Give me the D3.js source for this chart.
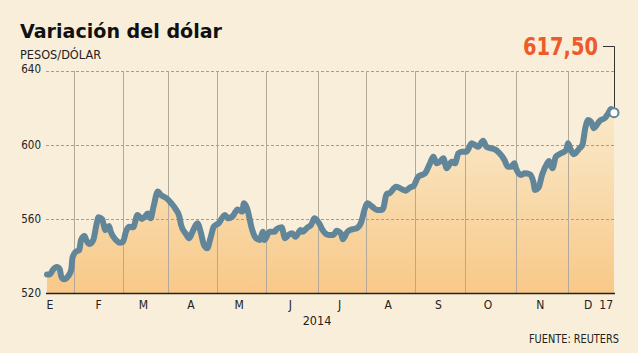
<!DOCTYPE html>
<html>
<head>
<meta charset="utf-8">
<script src="https://cdn.jsdelivr.net/npm/d3@7"></script>
<style>
  body { margin: 0; background: #f9eed9; }
  svg { display: block; }
</style>
</head>
<body>
<svg id="chart"></svg>
<script>
// Datos
const fechas = [
  "2014-01-13","2014-01-15","2014-01-17","2014-01-20","2014-01-22","2014-01-23","2014-01-25","2014-01-28","2014-01-30","2014-01-31",
  "2014-02-02","2014-02-04","2014-02-05","2014-02-07","2014-02-08","2014-02-10","2014-02-12","2014-02-14","2014-02-15","2014-02-17",
  "2014-02-19","2014-02-21","2014-02-22","2014-02-25","2014-02-27",
  "2014-03-01","2014-03-03","2014-03-05","2014-03-08","2014-03-11","2014-03-14","2014-03-16","2014-03-18","2014-03-20","2014-03-22",
  "2014-03-25","2014-03-27","2014-03-31",
  "2014-04-03","2014-04-06","2014-04-08","2014-04-09","2014-04-12","2014-04-14","2014-04-16","2014-04-19","2014-04-21","2014-04-23",
  "2014-04-25","2014-04-27","2014-04-29",
  "2014-05-02","2014-05-06","2014-05-08","2014-05-11","2014-05-14","2014-05-17","2014-05-18","2014-05-20","2014-05-23","2014-05-25",
  "2014-05-28","2014-05-30","2014-05-31",
  "2014-06-03","2014-06-06","2014-06-07","2014-06-10","2014-06-12","2014-06-14","2014-06-16","2014-06-18","2014-06-21","2014-06-22",
  "2014-06-25","2014-06-27","2014-06-29",
  "2014-07-02","2014-07-04","2014-07-08","2014-07-11","2014-07-13","2014-07-16","2014-07-17","2014-07-20","2014-07-23","2014-07-26",
  "2014-07-29","2014-07-31",
  "2014-08-02","2014-08-05","2014-08-08","2014-08-11","2014-08-12","2014-08-14","2014-08-16","2014-08-20","2014-08-24","2014-08-26",
  "2014-08-29","2014-08-31",
  "2014-09-03","2014-09-05","2014-09-07","2014-09-10","2014-09-12","2014-09-14","2014-09-16","2014-09-18","2014-09-20","2014-09-23",
  "2014-09-25","2014-09-27","2014-09-29",
  "2014-10-02","2014-10-05","2014-10-07","2014-10-09","2014-10-12","2014-10-14","2014-10-17","2014-10-19","2014-10-22","2014-10-25",
  "2014-10-27","2014-10-29","2014-10-31",
  "2014-11-01","2014-11-04","2014-11-06","2014-11-09","2014-11-11","2014-11-12","2014-11-14","2014-11-16","2014-11-19","2014-11-20",
  "2014-11-22","2014-11-24","2014-11-27","2014-11-30",
  "2014-12-01","2014-12-02","2014-12-03","2014-12-05","2014-12-06","2014-12-07","2014-12-08","2014-12-09","2014-12-10","2014-12-11",
  "2014-12-12","2014-12-14","2014-12-15","2014-12-16","2014-12-17"
];
const valores = [
  530, 530, 532.4, 534, 532.8, 529, 527.4, 529.2, 532.4, 539.3,
  542.3, 543.2, 548.6, 550.8, 548.6, 546.5, 548.6, 557.7, 561, 560,
  554, 556.2, 553.1, 548.6, 547.2,
  547.7, 553.1, 555.8, 555.5, 562.2, 560, 561.2, 563, 560.4, 566.6,
  574.8, 573, 571.2,
  568.5, 564.9, 561.2, 556.8, 551.9, 549.6, 553.1, 557.7, 553.1, 546,
  544.2, 549.6, 555.8,
  557.7, 562.2, 560.4, 561.6, 565.2, 564, 568.5, 565.8, 555, 550.4,
  548.6, 553.1, 548.6,
  553.1, 553.1, 554.4, 555.5, 549.6, 551.4, 552.3, 550.4, 554, 553.1,
  555.5, 556.8, 560.4,
  557.3, 554, 551.4, 551.4, 553.7, 551.9, 549, 553.1, 554.4, 555,
  558.5, 564.9,
  568.5, 566.6, 564.9, 564.9, 566, 573.5, 574, 577.5, 576, 575.3,
  577.1, 577.8,
  582.9, 583.8, 584.7, 590.1, 593.7, 590.1, 591, 592.8, 587.4, 591,
  590.1, 595.5, 596.4,
  596.4, 600.9, 600, 599.1, 602.3, 599.1, 598.2, 597.7, 595.5, 591.9,
  588.3, 588.3, 590.1,
  587.4, 583.8, 584.7, 584.2, 580.2, 575.7, 576.9, 583.8, 590.1, 591.4,
  587.4, 593.7, 595.5, 597.3,
  600.9, 597.3, 595, 598.2, 600, 609, 613.5, 612.6, 609, 610.8,
  613, 614.8, 617.1, 619.5, 617.5
];
const meses = ["E", "F", "M", "A", "M", "J", "J", "A", "S", "O", "N", "D"];
const fechasMeses = ["2014-01-15","2014-02-15","2014-03-15","2014-04-15","2014-05-15","2014-06-15",
  "2014-07-15","2014-08-15","2014-09-15","2014-10-15","2014-11-15","2014-12-08"];
const inicioMeses = ["2014-01-01","2014-02-01","2014-03-01","2014-04-01","2014-05-01","2014-06-01",
  "2014-07-01","2014-08-01","2014-09-01","2014-10-01","2014-11-01","2014-12-01","2014-12-17"];
const ticksY = [520, 560, 600, 640];
const ultimoTexto = "617,50";
const diaFinal = "17";

const parse = d3.timeParse("%Y-%m-%d");
const data = fechas.map((f, i) => ({ fecha: parse(f), valor: valores[i] }));

const width = 638, height = 353;
const svg = d3.select("#chart").attr("width", width).attr("height", height);

// escala x: cada mes ocupa su propio tramo, como en el original
const bordes = [30, 74, 123, 168, 217, 266, 318, 366, 415, 465, 516, 568, 614];
const x = d3.scaleTime()
  .domain(inicioMeses.map(parse))
  .range(bordes);
const y = d3.scaleLinear().domain([520, 640]).range([293, 71]);

const left = 47, right = 614;
const colorLinea = "#618699";

svg.append("rect").attr("width", width).attr("height", height).attr("fill", "#f9eed9");

const defs = svg.append("defs");
const grad = defs.append("linearGradient")
  .attr("id", "relleno")
  .attr("gradientUnits", "userSpaceOnUse")
  .attr("x1", 0).attr("x2", 0)
  .attr("y1", y(640)).attr("y2", y(520));
grad.append("stop").attr("offset", 0).attr("stop-color", "#f9ecd4");
grad.append("stop").attr("offset", 0.35).attr("stop-color", "#f9e3bd");
grad.append("stop").attr("offset", 1).attr("stop-color", "#f8c888");

// area
const area = d3.area()
  .x(d => x(d.fecha))
  .y0(y(520))
  .y1(d => y(d.valor));

svg.append("path")
  .datum(data)
  .attr("fill", "url(#relleno)")
  .attr("d", area);

// grilla horizontal punteada
svg.append("g")
  .selectAll("line")
  .data(ticksY.filter(t => t > 520))
  .join("line")
  .attr("x1", left - 1).attr("x2", right)
  .attr("y1", d => y(d) + 0.5).attr("y2", d => y(d) + 0.5)
  .attr("stroke", "#a59d92")
  .attr("stroke-width", 1)
  .attr("stroke-dasharray", "3,2");

// grilla vertical
svg.append("g")
  .selectAll("line")
  .data(inicioMeses.slice(1, 12).map(parse))
  .join("line")
  .attr("x1", d => Math.round(x(d)) + 0.5).attr("x2", d => Math.round(x(d)) + 0.5)
  .attr("y1", y(640)).attr("y2", y(520))
  .attr("stroke", "#b3a999")
  .attr("stroke-width", 1);

// linea
const line = d3.line()
  .x(d => x(d.fecha))
  .y(d => y(d.valor))
  .curve(d3.curveMonotoneX);

svg.append("path")
  .datum(data)
  .attr("fill", "none")
  .attr("stroke", colorLinea)
  .attr("stroke-width", 6)
  .attr("stroke-linejoin", "round")
  .attr("stroke-linecap", "round")
  .attr("d", line);

// eje base
svg.append("line")
  .attr("x1", left - 1).attr("x2", right + 1)
  .attr("y1", y(520) + 0.5).attr("y2", y(520) + 0.5)
  .attr("stroke", "#222")
  .attr("stroke-width", 1.5);

const fuente = "'DejaVu Sans Condensed', 'DejaVu Sans', sans-serif";

// etiquetas eje y
svg.append("g")
  .selectAll("text")
  .data(ticksY)
  .join("text")
  .attr("x", 41)
  .attr("y", d => y(d) + (d === 640 ? 1.5 : 4))
  .attr("text-anchor", "end")
  .attr("font-family", fuente)
  .attr("font-size", 11.5)
  .attr("fill", "#222")
  .text(d => d);

// etiquetas meses
svg.append("g")
  .selectAll("text")
  .data(meses)
  .join("text")
  .attr("x", (d, i) => x(parse(fechasMeses[i])))
  .attr("y", 309)
  .attr("text-anchor", "middle")
  .attr("font-family", fuente)
  .attr("font-size", 12)
  .attr("fill", "#222")
  .text(d => d);

svg.append("text")
  .attr("x", x(data[data.length - 1].fecha) - 1)
  .attr("y", 309)
  .attr("text-anchor", "end")
  .attr("font-family", fuente)
  .attr("font-size", 12)
  .attr("fill", "#222")
  .text(diaFinal);

svg.append("text")
  .attr("x", 317)
  .attr("y", 325)
  .attr("text-anchor", "middle")
  .attr("font-family", fuente)
  .attr("font-size", 12.5)
  .attr("fill", "#222")
  .text("2014");

svg.append("text")
  .attr("x", 619)
  .attr("y", 343)
  .attr("text-anchor", "end")
  .attr("font-family", fuente)
  .attr("font-size", 11.5)
  .attr("fill", "#222")
  .attr("textLength", 90)
  .attr("lengthAdjust", "spacingAndGlyphs")
  .text("FUENTE: REUTERS");

// titulo
svg.append("text")
  .attr("x", 20)
  .attr("y", 38)
  .attr("font-family", "'DejaVu Sans', sans-serif")
  .attr("font-weight", "bold")
  .attr("font-size", 20)
  .attr("fill", "#111")
  .attr("textLength", 202)
  .attr("lengthAdjust", "spacingAndGlyphs")
  .text("Variación del dólar");

svg.append("text")
  .attr("x", 20)
  .attr("y", 58.5)
  .attr("font-family", fuente)
  .attr("font-size", 12)
  .attr("fill", "#222")
  .attr("textLength", 81)
  .attr("lengthAdjust", "spacingAndGlyphs")
  .text("PESOS/DÓLAR");

// ultimo valor
const ultimo = data[data.length - 1];
const ux = x(ultimo.fecha), uy = y(ultimo.valor);

svg.append("path")
  .attr("d", `M${ux + 0.5},${uy - 5} V46.5 H603`)
  .attr("fill", "none")
  .attr("stroke", "#333")
  .attr("stroke-width", 1);

svg.append("circle")
  .attr("cx", ux).attr("cy", uy)
  .attr("r", 4.5)
  .attr("fill", "#fff")
  .attr("stroke", colorLinea)
  .attr("stroke-width", 2);

svg.append("text")
  .attr("x", 598)
  .attr("y", 55)
  .attr("text-anchor", "end")
  .attr("font-family", fuente)
  .attr("font-weight", "bold")
  .attr("font-size", 25)
  .attr("fill", "#ee5a29")
  .attr("textLength", 75)
  .attr("lengthAdjust", "spacingAndGlyphs")
  .text(ultimoTexto);
</script>
</body>
</html>
